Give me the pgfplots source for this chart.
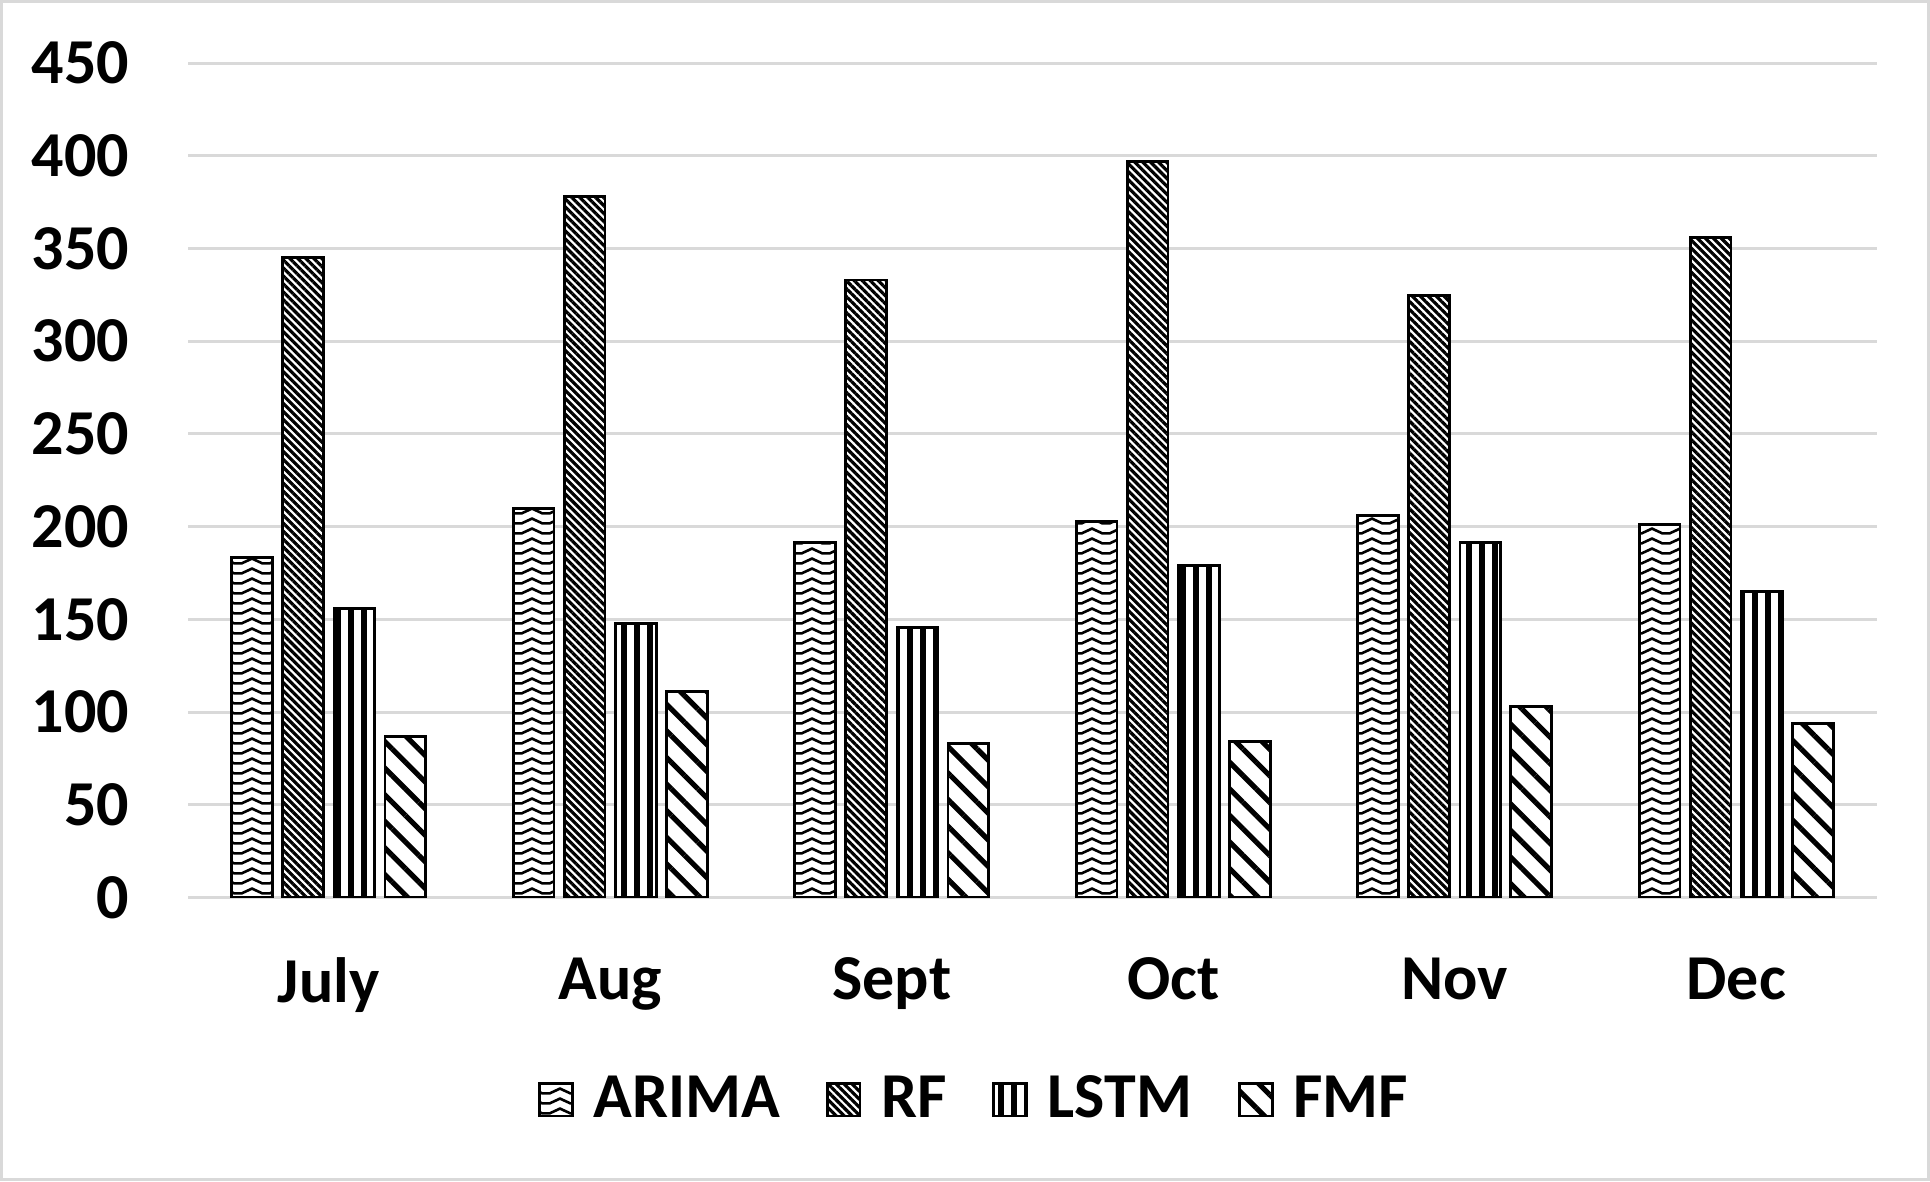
\documentclass[border=0pt]{standalone}
\usepackage{pgfplots}
\pgfplotsset{compat=1.18}
\usepackage{fontspec}
\setmainfont{Carlito}
\usetikzlibrary{patterns,patterns.meta}
\definecolor{gridgray}{HTML}{D9D9D9}
\tikzdeclarepattern{
  name=wavy,
  type=uncolored,
  bounding box={(0pt,-1.25pt) and (7pt,1.25pt)},
  tile size={(7pt,2.5pt)},
  code={
    \draw[line width=0.65pt] (-0.3pt,0.74pt) -- (2.6pt,-0.6pt) -- (4.4pt,-0.6pt) -- (7.3pt,0.74pt);
  }
}
\begin{document}
\begin{tikzpicture}
\path[use as bounding box] (0,0) rectangle (482.5pt,-295.25pt);
\draw[gridgray, line width=0.75pt] (0.375pt,-0.375pt) rectangle (482.125pt,-294.875pt);
\begin{axis}[
  at={(47pt,-224.4pt)}, anchor=south west,
  scale only axis,
  width=422.25pt, height=208.65pt,
  ybar,
  bar width=0.145,
  xmin=-0.5, xmax=5.5,
  ymin=0, ymax=450,
  ytick={0,50,...,450},
  xtick={0,1,2,3,4,5},
  xticklabels={July,Aug,Sept,Oct,Nov,Dec},
  ymajorgrids,
  grid style={gridgray, line width=0.75pt},
  axis line style={draw=none},
  major tick length=0pt,
  tick label style={font=\bfseries\fontsize{16}{19}\selectfont},
  /pgf/number format/assume math mode=true,
  y tick label style={xshift=-11.2pt},
  x tick label style={yshift=-11.5pt},
  legend columns=4,
  legend style={
    at={(0.4665,-0.242)}, anchor=center,
    draw=none, fill=none,
    font=\bfseries\fontsize{16}{19}\selectfont,
    /tikz/every even column/.append style={column sep=10pt},
    nodes={inner sep=1.5pt},
  },
  legend image code/.code={\draw[#1] (0pt,-4.1pt) rectangle (8.2pt,4.1pt); \path (11.6pt,0pt);},
  every axis plot/.append style={draw=black, line width=0.7pt, fill=white},
]
\addplot[bar shift=-0.272, postaction={pattern=wavy}] coordinates {(0,183.5) (1,210) (2,191.5) (3,203) (4,206) (5,201)};
\addplot[bar shift=-0.091, postaction={pattern={Lines[angle=-45,distance=1.41pt,line width=0.8pt]}}] coordinates {(0,345) (1,378) (2,333) (3,397) (4,324.5) (5,356)};
\addplot[bar shift=0.091, postaction={pattern={Lines[angle=90,distance=3.25pt,line width=1.6pt]}}] coordinates {(0,156) (1,148) (2,145.5) (3,179) (4,191.5) (5,165)};
\addplot[bar shift=0.272, postaction={pattern={Lines[angle=-45,distance=4.7pt,line width=1.3pt]}}] coordinates {(0,87) (1,111) (2,83) (3,84) (4,103) (5,94)};
\legend{ARIMA,RF,LSTM,FMF}
\end{axis}
\end{tikzpicture}
\end{document}
